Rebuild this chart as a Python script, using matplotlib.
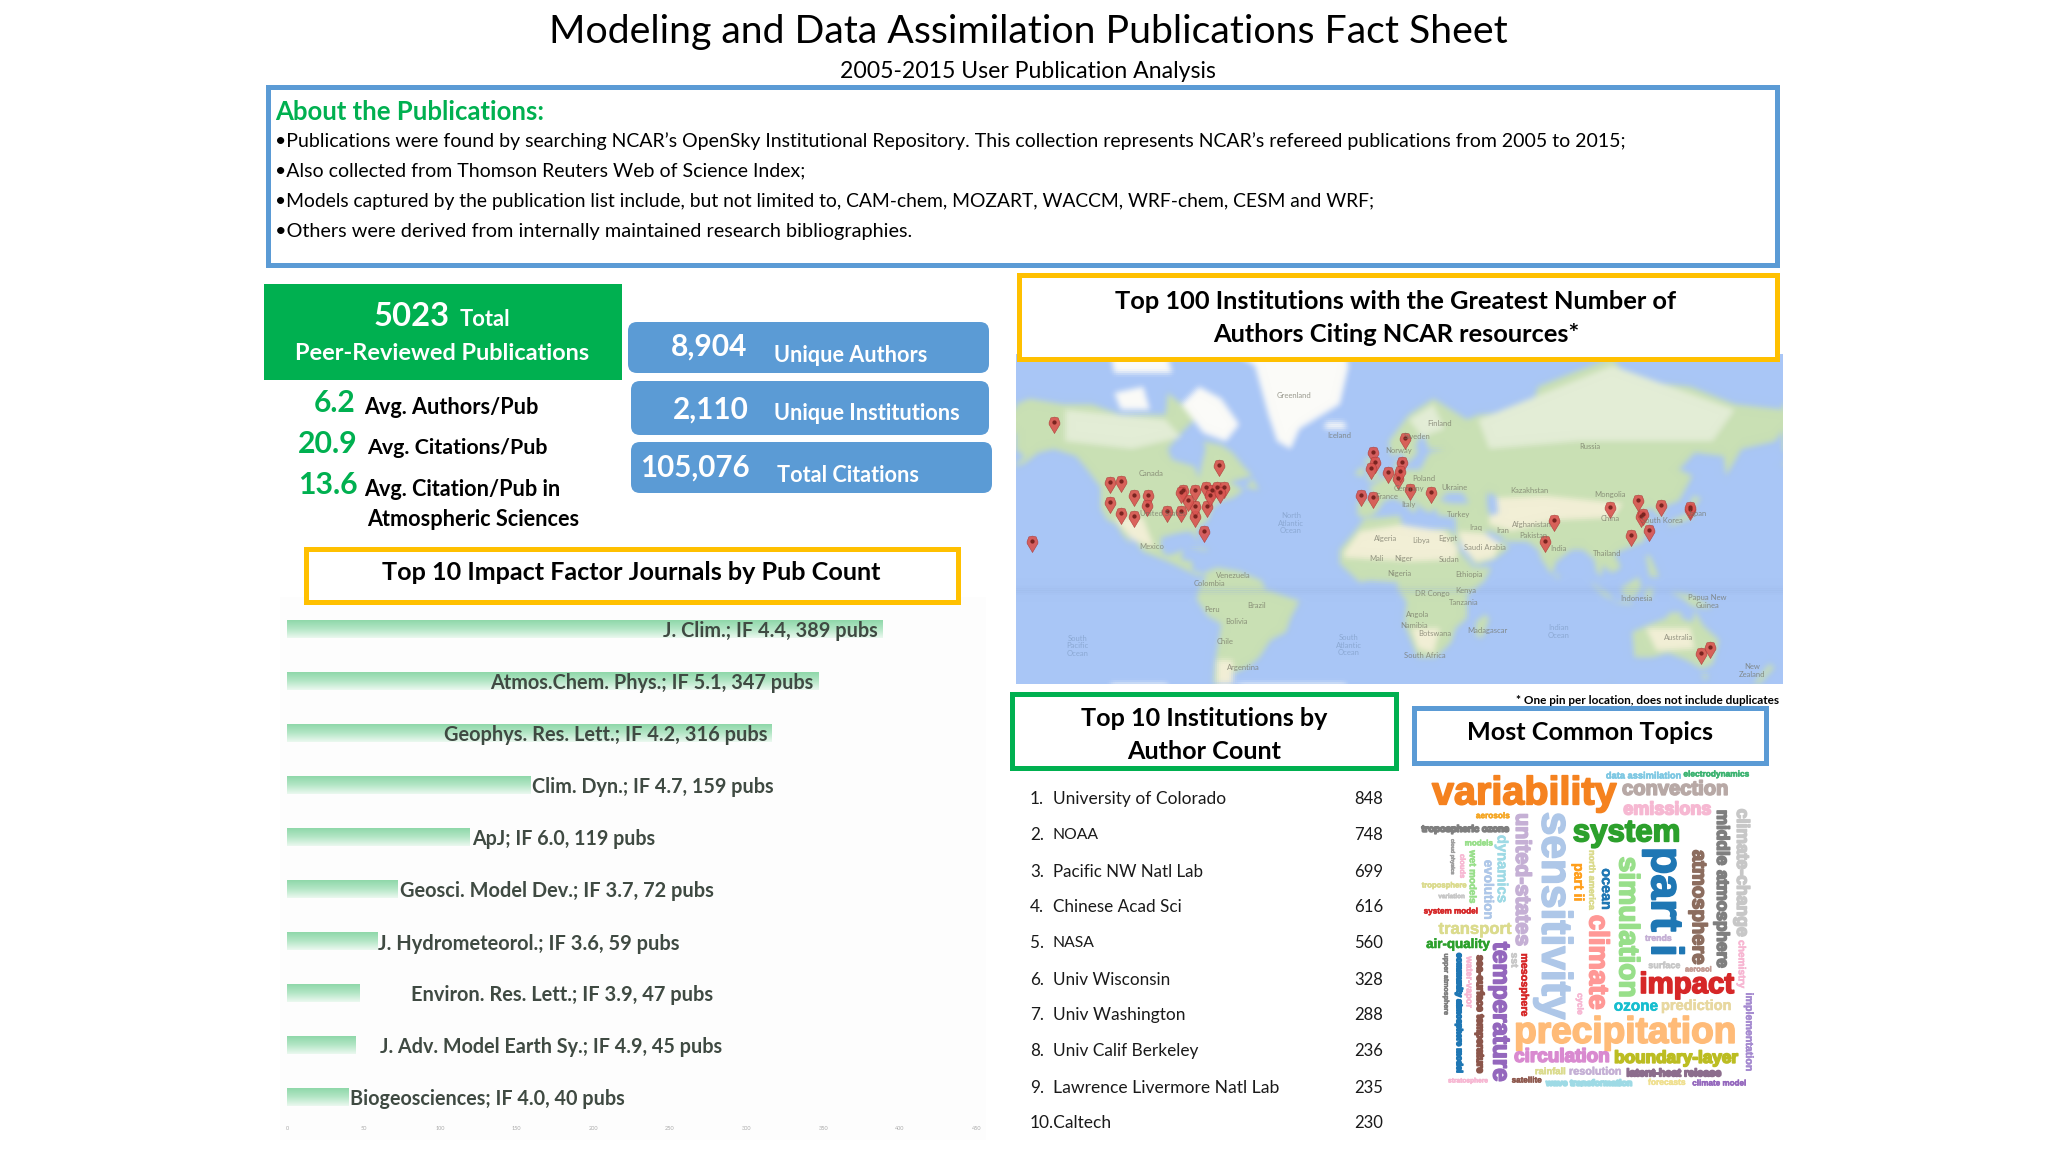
import numpy as np
import matplotlib
matplotlib.use('Agg')
import matplotlib.pyplot as plt
import matplotlib.patheffects as pe
from matplotlib.colors import LinearSegmentedColormap
from matplotlib.figure import Figure
from matplotlib.backends.backend_agg import FigureCanvasAgg
from matplotlib.patches import Rectangle, FancyBboxPatch, Polygon
from matplotlib.path import Path

FONT = 'Lato'
GREEN = '#00b050'
BLUE = '#5b9bd5'
YELLOW = '#ffc000'

title = 'Modeling and Data Assimilation Publications Fact Sheet'
subtitle = '2005-2015 User Publication Analysis'
about_head = 'About the Publications:'
about_lines = [
    '•Publications were found by searching NCAR’s OpenSky Institutional Repository. This collection represents NCAR’s refereed publications from 2005 to 2015;',
    '•Also collected from Thomson Reuters Web of Science Index;',
    '•Models captured by the publication list include, but not limited to, CAM-chem, MOZART, WACCM, WRF-chem, CESM and WRF;',
    '•Others were derived from internally maintained research bibliographies.',
]

# top 10 journals
journal_names = ['J. Clim.', 'Atmos.Chem. Phys.', 'Geophys. Res. Lett.', 'Clim. Dyn.', 'ApJ',
                 'Geosci. Model Dev.', 'J. Hydrometeorol.', 'Environ. Res. Lett.',
                 'J. Adv. Model Earth Sy.', 'Biogeosciences']
journal_if = ['4.4', '5.1', '4.2', '4.7', '6.0', '3.7', '3.6', '3.9', '4.9', '4.0']
journal_pubs = [389, 347, 316, 159, 119, 72, 59, 47, 45, 40]
journal_ticks = [0, 50, 100, 150, 200, 250, 300, 350, 400, 450]

# top 10 institutions
institutions = ['University of Colorado', 'NOAA', 'Pacific NW Natl Lab', 'Chinese Acad Sci', 'NASA',
                'Univ Wisconsin', 'Univ Washington', 'Univ Calif Berkeley',
                'Lawrence Livermore Natl Lab', 'Caltech']
author_counts = [848, 748, 699, 616, 560, 328, 288, 236, 235, 230]

# pins on the world map
pin_lon = [-145, -155, -71, -120, -115, -120, -115, -109, -103, -109, -103.5, -94.5, -88, -82, -78,
           -76.5, -82, -85, -87, -88, -82, -77, -74, -72, -69, -75, -70.5,
           12, -2, -1, -3, 11, 4.4, 9, 10, -7.5, -2, 14.5, 24,
           79, 74.7, 104, 116.4, 127, 140, 118, 113.5, 121.6, 119, 140, 145, 149]
pin_lat = [64, 20, 52, 46, 46.5, 38, 33.5, 41, 41, 32, 37, 34, 34, 32, 25,
           36.5, 36.5, 39, 43, 42, 43, 44, 43, 44, 44, 41, 42,
           60, 56, 53, 51, 53, 49.5, 47.5, 50, 41, 40, 43.5, 42,
           30, 20, 36, 39, 37, 35, 32, 23, 25.5, 33, 36, -37, -34]

# rough land outlines, lon/lat
north_america = [(-168, 66), (-162, 70), (-156, 71), (-141, 70), (-128, 70), (-115, 68), (-95, 68), (-94, 72),
                 (-85, 69), (-82, 67), (-88, 64), (-94, 60), (-92, 57), (-82, 55), (-80, 51), (-79, 55), (-77, 60),
                 (-78, 62), (-70, 61), (-65, 59), (-60, 55), (-56, 52), (-66, 50), (-60, 47), (-65, 44), (-70, 43),
                 (-74, 40), (-76, 35), (-81, 31), (-80, 25), (-82, 28), (-84, 30), (-90, 29), (-97, 27), (-97, 22),
                 (-95, 18), (-91, 19), (-87, 21), (-88, 16), (-83, 15), (-83, 10), (-78, 9), (-80, 7), (-85, 10),
                 (-92, 14), (-96, 16), (-105, 20), (-109, 26), (-113, 31), (-110, 23), (-114, 28), (-117, 33),
                 (-121, 35), (-124, 40), (-124, 48), (-130, 54), (-135, 58), (-145, 60), (-152, 59), (-158, 56),
                 (-165, 54), (-158, 58), (-165, 61), (-166, 64)]
south_america = [(-78, 9), (-72, 12), (-62, 10), (-52, 5), (-50, 0), (-35, -6), (-39, -15), (-41, -22), (-48, -26),
                 (-53, -34), (-58, -38), (-65, -41), (-68, -50), (-74, -50), (-73, -37), (-70, -18), (-76, -14),
                 (-81, -5), (-80, 1), (-77, 7)]
africa = [(-6, 35.5), (10, 37), (11, 33), (20, 31), (32, 31), (35, 28), (37, 20), (43, 12), (51, 12), (48, 5),
          (40, -3), (40, -15), (35, -20), (33, -27), (26, -34), (18, -34), (12, -18), (13, -6), (9, 0), (9, 4),
          (-4, 5), (-8, 4), (-17, 14), (-17, 21), (-10, 30)]
eurasia = [(-9, 37), (-9, 43), (-1, 44), (-4, 48), (2, 51), (8, 54), (8, 57), (11, 56), (10, 54), (19, 54), (23, 59),
           (30, 60), (23, 60), (21, 63), (25, 65), (22, 66), (17, 61), (18, 59), (13, 55.5), (11, 59), (6, 58),
           (5, 62), (14, 68), (25, 71), (40, 67), (45, 68), (68, 69), (72, 73), (87, 75), (105, 77), (113, 74),
           (140, 73), (160, 70), (182, 69), (182, 65), (178, 62), (163, 60), (156, 52), (155, 58), (142, 59),
           (135, 54), (141, 52), (135, 43), (129, 41), (127, 35), (125, 38), (122, 40), (118, 38), (122, 36),
           (121, 30), (119, 25), (110, 21), (106, 19), (109, 12), (105, 9), (101, 13), (100, 7), (103, 2), (98, 10),
           (97, 16), (92, 21), (87, 21), (80, 15), (78, 8), (73, 17), (72, 21), (67, 25), (57, 25), (56, 27),
           (50, 30), (48, 30), (52, 24), (56, 25), (59, 22), (52, 16), (44, 13), (39, 21), (35, 28), (35, 36),
           (27, 37), (26, 40), (23, 38), (20, 40), (13, 45), (18, 40), (16, 38), (12, 42), (7, 44), (3, 43),
           (0, 39), (-2, 37), (-6, 36)]
australia = [(114, -22), (122, -18), (129, -15), (131, -12), (136, -12), (136, -15), (141, -17), (142, -11),
             (146, -19), (153, -26), (150, -37), (145, -39), (138, -35), (130, -32), (123, -34), (115, -34)]
small_land = [
    [(-59, 48), (-53, 47), (-56, 51)], [(-85, 22), (-75, 20), (-78, 22)],
    [(-5, 50), (1, 51), (0, 54), (-3, 58), (-6, 57), (-3, 54)], [(-10, 52), (-6, 52), (-6, 55), (-9, 54)],
    [(130, 32), (136, 34), (141, 36), (142, 41), (145, 44), (141, 45), (139, 38), (132, 35)],
    [(44, -24), (47, -25), (50, -15), (48, -13), (44, -17)], [(95, 5), (104, -3), (106, -6), (100, -2)],
    [(109, 1), (117, 7), (118, 1), (115, -4), (110, -3)], [(105, -7), (115, -8), (112, -6)],
    [(120, 1), (124, 1), (122, -5), (120, -5)], [(131, -1), (141, -3), (148, -8), (150, -10), (141, -9), (137, -5)],
    [(120, 18), (122, 18), (126, 7), (122, 7)], [(167, -46), (172, -41), (175, -37), (178, -38), (174, -42), (170, -46)],
    [(145, -41), (148, -41), (147, -44)], [(79.5, 9), (82, 7), (80, 6)],
]
white_land = [
    [(-68, 78), (-15, 78), (-13, 76), (-17, 70), (-35, 65), (-39, 60), (-45, 62), (-49, 68), (-55, 76)],
    [(-80, 73), (-70, 71), (-62, 66), (-68, 62), (-78, 64), (-88, 70)],
    [(-118, 72), (-105, 73), (-102, 69), (-115, 69)], [(-120, 78), (-95, 78), (-92, 75), (-118, 75)],
    [(-24, 65), (-14, 65), (-15, 66.5), (-23, 66.5)],
]
pale_land = [
    [(-140, 69), (-95, 67), (-88, 63), (-110, 60), (-140, 62)], [(45, 67), (105, 76), (160, 69), (150, 62), (90, 62), (50, 60)],
    [(14, 67), (25, 70), (30, 65), (20, 63)],
]
cream_land = [
    [(-15, 20), (-8, 30), (10, 33), (30, 30), (36, 22), (35, 16), (15, 15), (-15, 17)],
    [(36, 30), (48, 29), (55, 24), (52, 17), (44, 15), (38, 22)],
    [(50, 44), (75, 45), (110, 42), (105, 36), (80, 35), (60, 30), (50, 33)],
    [(120, -20), (140, -20), (142, -30), (125, -31)], [(-118, 36), (-105, 36), (-100, 22), (-110, 26)],
    [(15, -20), (28, -20), (25, -32), (18, -30)], [(-72, -35), (-65, -35), (-65, -50), (-72, -50)],
]
inland_water = [[(28, 43), (31, 46), (38, 46), (41, 42), (33, 42)], [(49, 46), (53, 45), (54, 38), (50, 37), (49, 42)]]

map_names = ['Greenland', 'Iceland', 'Finland', 'Sweden', 'Norway', 'Russia', 'Canada', 'United States', 'Mexico',
             'Kazakhstan', 'Mongolia', 'China', 'South Korea', 'Japan', 'Turkey', 'Iran', 'Iraq', 'Afghanistan', 'Pakistan',
             'India', 'Thailand', 'Saudi Arabia', 'Algeria', 'Libya', 'Egypt', 'Mali', 'Niger', 'Sudan', 'Nigeria',
             'Ethiopia', 'DR Congo', 'Kenya', 'Tanzania', 'Angola', 'Namibia', 'Botswana', 'South Africa', 'Madagascar',
             'Venezuela', 'Colombia', 'Brazil', 'Peru', 'Bolivia', 'Chile', 'Argentina', 'Indonesia',
             'Papua New\nGuinea', 'Australia', 'New\nZealand', 'France', 'Italy', 'Poland', 'Germany', 'Ukraine',
             'North\nAtlantic\nOcean', 'South\nPacific\nOcean', 'South\nAtlantic\nOcean', 'Indian\nOcean']

topic_words = ['variability', 'convection', 'emissions', 'data assimilation', 'electrodynamics', 'aerosols',
               'tropospheric ozone', 'united-states', 'sensitivity', 'system', 'part i', 'atmosphere',
               'middle atmosphere', 'climate-change', 'chemistry', 'simulation', 'climate', 'ocean', 'part ii',
               'north america', 'impact', 'ozone', 'prediction', 'precipitation', 'circulation', 'boundary-layer',
               'rainfall', 'resolution', 'latent-heat release', 'climate model', 'forecasts', 'wave transformation',
               'satellite', 'stratosphere', 'temperature', 'implementation', 'mesosphere', 'sea-surface temperature',
               'water-vapor', 'community atmosphere model', 'upper atmosphere', 'transport', 'air-quality',
               'system model', 'troposphere', 'variation', 'cloud physics', 'clouds', 'wet models', 'models',
               'dynamics', 'evolution', 'trends', 'surface', 'aerosol', 'sst', 'cycle']

plt.rcParams['font.family'] = [FONT, 'DejaVu Sans']
fig = plt.figure(figsize=(20.48, 11.52), dpi=100, facecolor='white')
rend = fig.canvas.get_renderer()


def rect_axes(x0, y0, x1, y1, **kw):
    # pixel box, y going down from the top of the page
    return fig.add_axes([x0 / 2048, 1 - y1 / 1152, (x1 - x0) / 2048, (y1 - y0) / 1152], **kw)


page = rect_axes(0, 0, 2048, 1152, zorder=2)
page.set_xlim(0, 2048)
page.set_ylim(1152, 0)
page.axis('off')


def put(s, x, y, width, ha='left', weight='normal', color='black', family=FONT, rot=0, zorder=5, **kw):
    # size the text so that it spans width pixels
    t = page.text(x, y, s, ha=ha, va='center', color=color, family=family, weight=weight,
                  rotation=rot, fontsize=14, zorder=zorder, **kw)
    ext = t.get_window_extent(rend)
    t.set_fontsize(14 * width / (ext.height if rot else ext.width))
    return t


def frame(x0, y0, x1, y1, color, lw=5):
    page.add_patch(Rectangle((x0, y0), x1 - x0, y1 - y0, fc='white', ec=color, lw=lw * 0.72, zorder=3))


# header
put(title, 1028, 32, 962, ha='center')
put(subtitle, 1028, 71, 378, ha='center')
frame(268, 87, 1777, 265, BLUE)
put(about_head, 275, 112, 270, weight='bold', color=GREEN)
for line, y, w in zip(about_lines, [141, 171, 202, 232], [1355, 532, 1106, 638]):
    put(line, 275, y, w)

# stats
page.add_patch(Rectangle((264, 284), 358, 96, fc=GREEN, ec='none', zorder=3))
put('5023', 374, 316, 76, weight='bold', color='white')
put('Total', 460, 320, 51, weight='bold', color='white')
put('Peer-Reviewed Publications', 295, 354, 295, weight='bold', color='white')
for x0, y0, x1, y1 in [(628, 322, 989, 373), (631, 381, 989, 435), (631, 442, 992, 493)]:
    page.add_patch(FancyBboxPatch((x0, y0), x1 - x0, y1 - y0, boxstyle='round,pad=0,rounding_size=9',
                                  fc=BLUE, ec='none', zorder=3))
put('8,904', 671, 347, 77, weight='bold', color='white')
put('Unique Authors', 774, 356, 154, weight='bold', color='white')
put('2,110', 673, 410, 76, weight='bold', color='white')
put('Unique Institutions', 774, 414, 187, weight='bold', color='white')
put('105,076', 640, 468, 110, weight='bold', color='white')
put('Total Citations', 777, 475, 142, weight='bold', color='white')
put('6.2', 314, 403, 42, weight='bold', color=GREEN)
put('Avg. Authors/Pub', 364, 407, 175, weight='bold')
put('20.9', 298, 444, 60, weight='bold', color=GREEN)
put('Avg. Citations/Pub', 367, 448, 182, weight='bold')
put('13.6', 298, 485, 60, weight='bold', color=GREEN)
put('Avg. Citation/Pub in', 364, 489, 197, weight='bold')
put('Atmospheric Sciences', 367, 519, 212, weight='bold')

# journal bars
ax_bar = rect_axes(280, 597, 986, 1140, zorder=1, facecolor='#fdfdfd')
ypos = np.arange(len(journal_pubs))
bars = ax_bar.barh(ypos, journal_pubs, height=0.34, color='#b4e6c6')
grad = LinearSegmentedColormap.from_list('bar', ['#8fd8aa', '#b4e6c6', '#eaf8ef'])
for b in bars:
    ax_bar.imshow(np.linspace(0, 1, 32).reshape(-1, 1), cmap=grad, aspect='auto', zorder=3,
                  extent=[b.get_x(), b.get_x() + b.get_width(), b.get_y() + b.get_height(), b.get_y()])
ax_bar.set_xlim(-7 / 1.532, 699 / 1.532)
ax_bar.set_ylim(511 / 52, -32 / 52)
ax_bar.set_xticks(journal_ticks)
ax_bar.set_yticks([])
ax_bar.tick_params(axis='x', length=0, pad=-10, labelsize=4, labelcolor='#aaaaaa')
for s in ax_bar.spines.values():
    s.set_visible(False)
label_left = [663, 490, 443.5, 532, 472, 399.5, 378, 411, 380, 350]
label_right = [879, 815.5, 768, 775, 656, 714, 681, 714, 724, 626]
label_y = [631, 683, 735, 787, 839, 891, 944, 995, 1047, 1099]
for i, (n, f, p) in enumerate(zip(journal_names, journal_if, journal_pubs)):
    put(f'{n}; IF {f}, {p} pubs', label_left[i], label_y[i], label_right[i] - label_left[i],
        weight='bold', color='#3f4a42')
frame(306, 549, 958, 602, YELLOW)
put('Top 10 Impact Factor Journals by Pub Count', 631, 573, 502, ha='center', weight='bold')

# world map, drawn small and softened to look like the screenshot
LON0, LON1 = -162, 181.5
M0, M1 = -0.879, 2.206


def merc(lat):
    return np.arcsinh(np.tan(np.radians(lat)))


def project(shape):
    return [(lo, merc(la)) for lo, la in shape]


map_fig = Figure(figsize=(7.67, 3.30), dpi=100)
FigureCanvasAgg(map_fig)
m = map_fig.add_axes([0, 0, 1, 1], facecolor='#a9c6f6')
m.set_xlim(LON0, LON1)
m.set_ylim(M0, M1)
m.axis('off')
m.add_patch(Rectangle((LON0, M0), LON1 - LON0, M1 - M0, fc='#a9c6f6', ec='none'))
m.axhline(0, color='#93aedb', lw=1)
for shape in [north_america, south_america, africa, eurasia, australia] + small_land:
    m.add_patch(Polygon(project(shape), fc='#c9e0b4', ec='none'))
for shape in pale_land:
    m.add_patch(Polygon(project(shape), fc='#e3edd6', ec='none'))
for shape in cream_land:
    m.add_patch(Polygon(project(shape), fc='#f2efd6', ec='none'))
for shape in white_land:
    m.add_patch(Polygon(project(shape), fc='#fbfbf8', ec='none'))
for shape in inland_water:
    m.add_patch(Polygon(project(shape), fc='#a9c6f6', ec='none'))
map_fig.canvas.draw()
img = np.asarray(map_fig.canvas.buffer_rgba())[:, :, :3].astype(float)
for _ in range(5):
    img = (img + np.roll(img, 2, 0) + np.roll(img, -2, 0) + np.roll(img, 2, 1) + np.roll(img, -2, 1)) / 5

ax_map = rect_axes(1016, 354, 1783, 684, zorder=1)
ax_map.imshow(img.astype(np.uint8), extent=[LON0, LON1, M0, M1], aspect='auto')
ax_map.set_xlim(LON0, LON1)
ax_map.set_ylim(M0, M1)
ax_map.axis('off')

pin_body = Path([(0, 0), (-0.33, 0.55), (-0.33, 0.67), (-0.22, 0.95), (0, 1), (0.22, 0.95), (0.33, 0.67), (0.33, 0.55), (0, 0)])
pin_dot = Path.make_compound_path(Path.circle((0, 0.67), 0.13), Path([(0, 1), (0, 1)]))
ax_map.scatter(pin_lon, merc(np.array(pin_lat)), marker=pin_body, s=560, c='#d9534f', edgecolors='#a93a36', linewidths=0.4, alpha=0.9, zorder=3)
ax_map.scatter(pin_lon, merc(np.array(pin_lat)), marker=pin_dot, s=560, c='#7a2420', linewidths=0, zorder=4)

label_zx = [560, 648, 838, 795, 760, 1125, 288, 310, 290, 1010, 1163, 1165, 1262, 1330, 875, 960, 908, 1015, 1018,
            1065, 1158, 925, 735, 803, 855, 718, 770, 857, 762, 895, 825, 888, 885, 797, 790, 830, 810, 930,
            445, 400, 490, 405, 452, 430, 465, 1215, 1350, 1295, 1435, 738, 780, 808, 780, 868,
            555, 148, 665, 1065]
label_zy = [405, 525, 490, 530, 572, 560, 640, 760, 860, 692, 705, 775, 782, 760, 763, 812, 803, 795, 828,
            865, 880, 862, 835, 842, 835, 895, 895, 898, 940, 945, 1000, 990, 1027, 1062, 1098, 1122, 1185, 1110,
            948, 970, 1038, 1050, 1083, 1145, 1222, 1015, 1025, 1133, 1232, 710, 733, 655, 685, 682,
            790, 1158, 1155, 1115]
for n, zx, zy in zip(map_names, label_zx, label_zy):
    ocean = 'Ocean' in n
    page.text(1000 + zx / 1.908, 260 + zy / 3, n, ha='center', va='center', fontsize=5.5, linespacing=1.1,
              color='#7f9cc4' if ocean else '#6f6f60', alpha=0.7, zorder=1.5)

frame(1019, 275, 1777, 359, YELLOW)
put('Top 100 Institutions with the Greatest Number of\nAuthors Citing NCAR resources*', 1396, 318, 566,
    ha='center', weight='bold', multialignment='center', linespacing=1.56)
put('* One pin per location, does not include duplicates', 1779, 700, 263, ha='right', weight='bold')

# institutions
frame(1012, 694, 1396, 768, GREEN)
put('Top 10 Institutions by\nAuthor Count', 1204, 735, 247, ha='center', weight='bold',
    multialignment='center', linespacing=1.56)
inst_y = [799, 835, 872, 907, 943, 980, 1015, 1051, 1088, 1123]
inst_w = [174, 46, 151, 129, 42, 118, 133, 145, 226, 0]
for i, (n, c) in enumerate(zip(institutions, author_counts)):
    if i < 9:
        put(f'{i + 1}.', 1030, inst_y[i], 14, color='#1a1a1a')
        put(n, 1053, inst_y[i], inst_w[i], color='#1a1a1a')
    else:
        put(f'{i + 1}.{n}', 1030, inst_y[i], 82, color='#1a1a1a')
    put(str(c), 1383, inst_y[i], 29, ha='right', color='#1a1a1a')

# topics
frame(1414, 708, 1766, 763, BLUE)
put('Most Common Topics', 1590, 733, 247, ha='center', weight='bold')

# word cloud layout, centre and long side in crop units of 1/3 pixel
cloud_x = [372, 825, 802, 731, 951, 279, 196, 365, 460, 680, 790, 895, 965, 1025, 1025, 680, 590, 618, 535, 575,
           860, 708, 889, 676, 486, 828, 451, 586, 822, 959, 801, 567, 380, 205, 300, 1047, 373, 240, 207, 175, 137,
           225, 174, 153, 132, 155, 158, 185, 218, 237, 305, 262, 775, 793, 895, 343, 540]
cloud_y = [280, 268, 330, 228, 225, 350, 388, 540, 647, 400, 605, 622, 567, 517, 792, 682, 787, 567, 547, 540,
           855, 920, 918, 1000, 1072, 1075, 1115, 1115, 1120, 1152, 1150, 1150, 1143, 1143, 935, 996, 855, 942, 847,
           940, 852, 688, 735, 636, 558, 590, 471, 498, 530, 432, 507, 570, 715, 797, 810, 780, 912]
cloud_len = [555, 320, 265, 227, 198, 102, 263, 400, 625, 324, 330, 345, 475, 385, 145, 425, 285, 125, 115, 180,
             285, 133, 212, 668, 288, 373, 93, 158, 285, 162, 113, 260, 90, 120, 420, 237, 190, 355, 155, 360, 185,
             220, 192, 163, 135, 80, 107, 73, 160, 85, 205, 180, 80, 97, 80, 45, 65]
cloud_rot = [0, 0, 0, 0, 0, 0, 0, -90, -90, 0, -90, -90, -90, -90, -90, -90, -90, -90, -90, -90,
             0, 0, 0, 0, 0, 0, 0, 0, 0, 0, 0, 0, 0, 0, -90, -90, -90, -90, -90, -90, -90,
             0, 0, 0, 0, 0, -90, -90, -90, 0, -90, -90, 0, 0, 0, -90, -90]
cloud_col = ['#f5821f', '#b8a9a6', '#f6b8d2', '#7ec8e3', '#3cb371', '#f5a623', '#7f7f7f', '#c5b0d5', '#aec7e8', '#2ca02c',
             '#1f77b4', '#8c6d5f', '#7f7f7f', '#c7c7c7', '#f7b6d2', '#98df8a', '#ff9896', '#1f77b4', '#ff9f1c', '#dbdb8d',
             '#d62728', '#17becf', '#e8d8a0', '#ffbb78', '#d98ad0', '#bcbd22', '#dbdb8d', '#c5b0d5', '#8c6d8d', '#9467bd',
             '#f0e090', '#9edae5', '#8c564b', '#f7b6d2', '#9467bd', '#a58ad0', '#d62728', '#8c564b', '#f7b6d2', '#1f77b4',
             '#7f7f7f', '#dbdb8d', '#2ca02c', '#d62728', '#dbdb8d', '#c7c7c7', '#9f9f9f', '#f7b6d2', '#98df8a', '#98df8a',
             '#9edae5', '#aec7e8', '#c5b0d5', '#c7c7c7', '#c49c94', '#c7c7c7', '#f7b6d2']
for w, x, y, ln, r, c in zip(topic_words, cloud_x, cloud_y, cloud_len, cloud_rot, cloud_col):
    t = put(w, 1400 + x / 3, 700 + y / 3, ln / 3, ha='center', weight='bold', color=c, family='Liberation Sans', rot=r)
    t.set_path_effects([pe.withStroke(linewidth=1.2 if ln > 250 else 0.4, foreground=c)])

fig.savefig('out.png', dpi=100, facecolor='white')
